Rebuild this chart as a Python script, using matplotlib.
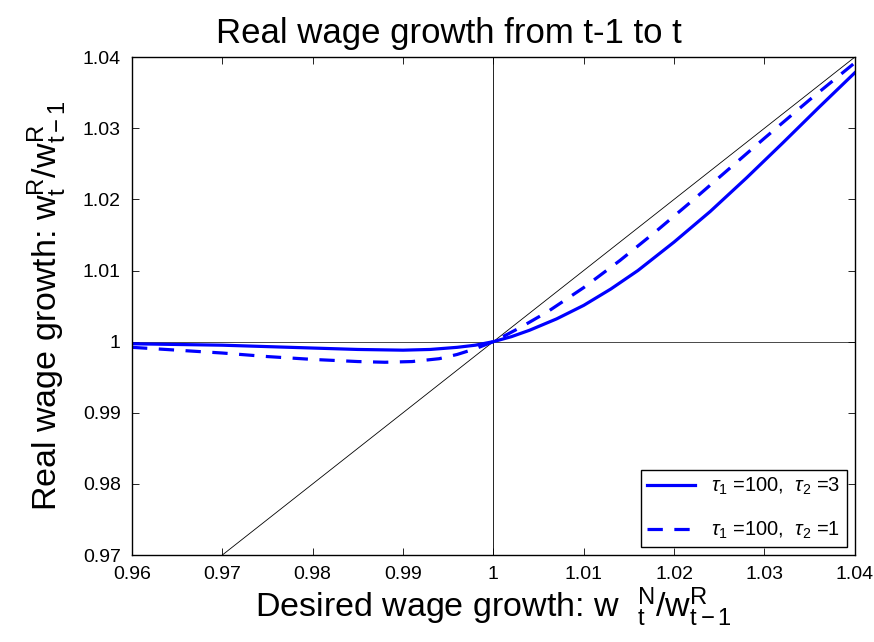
import numpy as np
import matplotlib
matplotlib.use('Agg')
from matplotlib import pyplot as plt

plt.rcParams['font.family'] = ['Liberation Sans', 'DejaVu Sans']
plt.rcParams['mathtext.fontset'] = 'custom'
plt.rcParams['mathtext.rm'] = 'Liberation Sans'
plt.rcParams['mathtext.it'] = 'Liberation Sans:italic'
plt.rcParams['mathtext.bf'] = 'Liberation Sans:bold'

# tau1=100, tau2=3 (solid)
x_tau3 = [0.96, 0.965, 0.97, 0.975, 0.98, 0.985, 0.99, 0.993, 0.996, 0.998, 1.0,
          1.002, 1.004, 1.007, 1.01, 1.013, 1.016, 1.02, 1.024, 1.028, 1.032, 1.036, 1.04]
y_tau3 = [0.9997, 0.9996, 0.9995, 0.9993, 0.9991, 0.9989, 0.9988, 0.9989, 0.9992, 0.9995, 1.0,
          1.0007, 1.0016, 1.0032, 1.0051, 1.0074, 1.0100, 1.0140, 1.0183, 1.0230, 1.0279, 1.0329, 1.0378]

# tau1=100, tau2=1 (dashed)
x_tau1 = [0.96, 0.965, 0.97, 0.975, 0.98, 0.985, 0.988, 0.991, 0.994, 0.996, 0.998, 1.0,
          1.003, 1.006, 1.01, 1.014, 1.018, 1.022, 1.026, 1.03, 1.035, 1.04]
y_tau1 = [0.9992, 0.9988, 0.9984, 0.9979, 0.9975, 0.9972, 0.9971, 0.9972, 0.9976, 0.9982, 0.9990, 1.0,
          1.0020, 1.0042, 1.0076, 1.0114, 1.0155, 1.0198, 1.0242, 1.0286, 1.0340, 1.0392]

xticks = [0.96, 0.97, 0.98, 0.99, 1.0, 1.01, 1.02, 1.03, 1.04]
xticklabels = ['0.96', '0.97', '0.98', '0.99', '1', '1.01', '1.02', '1.03', '1.04']
yticks = [0.97, 0.98, 0.99, 1.0, 1.01, 1.02, 1.03, 1.04]
yticklabels = ['0.97', '0.98', '0.99', '1', '1.01', '1.02', '1.03', '1.04']

fig = plt.figure(figsize=(8.74, 6.42), dpi=100)
ax = fig.add_axes([0.151, 0.1355, 0.827, 0.7755])

# 45度线和参考线
ax.plot([0.97, 1.04], [0.97, 1.04], color='k', linewidth=0.6)
ax.axhline(1, color='k', linewidth=0.5)
ax.axvline(1, color='k', linewidth=0.6)

ax.plot(x_tau3, y_tau3, color='#0000ff', linewidth=2.3, linestyle='-',
        label=r'$\tau_1$ =100,  $\tau_2$ =3')
ax.plot(x_tau1, y_tau1, color='#0000ff', linewidth=2.3, linestyle=(0, (4.8, 3.6)),
        label=r'$\tau_1$ =100,  $\tau_2$ =1')

ax.set_xlim(0.96, 1.04)
ax.set_ylim(0.97, 1.04)
ax.set_xticks(xticks)
ax.set_xticklabels(xticklabels)
ax.set_yticks(yticks)
ax.set_yticklabels(yticklabels)
ax.tick_params(direction='in', top=True, right=True, length=5, width=0.6, labelsize=14, pad=8)
for s in ax.spines.values():
    s.set_linewidth(1.0)

ax.set_title('Real wage growth from t-1 to t', fontsize=25, pad=10, x=0.438)
ax.set_xlabel(r'Desired wage growth: w  ${}^{\mathrm{N}}_{\mathrm{t}}$/w$^{\mathrm{R}}_{\mathrm{t- 1}}$',
              fontsize=24.5, labelpad=2)
ax.set_ylabel(r'Real wage growth: w$^{\mathrm{R}}_{\mathrm{t}}$/w$^{\mathrm{R}}_{\mathrm{t-1}}$',
              fontsize=24.5, labelpad=10)

leg = ax.legend(loc='lower right', fontsize=14.5, fancybox=False, edgecolor='k',
                framealpha=1, handlelength=2.4, borderaxespad=0.4, borderpad=0.3,
                labelspacing=1.1)
leg.get_frame().set_linewidth(1.0)

fig.savefig('out.png', dpi=100)
